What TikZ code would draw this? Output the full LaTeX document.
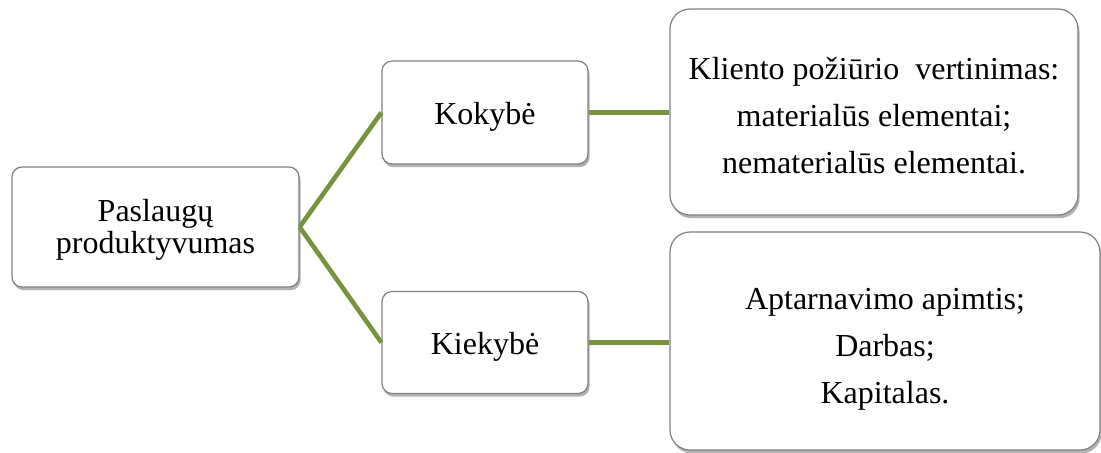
\documentclass[tikz,border=0pt]{standalone}
\usepackage{fontspec}
\setmainfont{Liberation Serif}
\usetikzlibrary{shadows}

\definecolor{branchgreen}{RGB}{119,147,60}
\definecolor{boxgray}{RGB}{128,128,128}

\tikzset{
    box/.style={draw=boxgray, line width=0.6pt, fill=white, rounded corners=5pt,
        align=center, inner sep=0pt, font=\fontsize{16}{16}\selectfont,
        drop shadow={shadow xshift=0.8pt, shadow yshift=-1.6pt, opacity=0.3, fill=black}},
    bigbox/.style={box, rounded corners=10pt, font=\fontsize{16}{23.5}\selectfont},
    branch/.style={draw=branchgreen, line width=2.3pt},
}

\begin{document}
\begin{tikzpicture}[x=0.5pt, y=-0.5pt]
    \useasboundingbox (0,0) rectangle (1101,452);

    % Root box
    \node[box, minimum width=143.5pt, minimum height=60pt] (root) at (155.5,227)
        {\rule{0pt}{14pt}Paslaugų\\produktyvumas};

    % Quality and quantity
    \node[box, minimum width=103pt, minimum height=51.5pt] (kok) at (485,112.5) {\rule{0pt}{15pt}Kokybė};
    \node[box, minimum width=103pt, minimum height=51pt] (kie) at (485,342.5) {\rule{0pt}{15pt}Kiekybė};

    % Detail boxes on the right
    \node[bigbox, minimum width=204pt, minimum height=103pt] (kokdet) at (874,112)
        {\rule{0pt}{15pt}Kliento požiūrio~ vertinimas:\\materialūs elementai;\\nematerialūs elementai.};
    \node[bigbox, minimum width=215pt, minimum height=109pt] (kiedet) at (885,341)
        {\rule{0pt}{19pt}Aptarnavimo apimtis;\\Darbas;\\Kapitalas.};

    % Branches
    \draw[branch] (root.east) -- (kok.west);
    \draw[branch] (root.east) -- (kie.west);
    \draw[branch] (kok.east) -- (kok.east -| kokdet.west);
    \draw[branch] (kie.east) -- (kie.east -| kiedet.west);
\end{tikzpicture}
\end{document}
